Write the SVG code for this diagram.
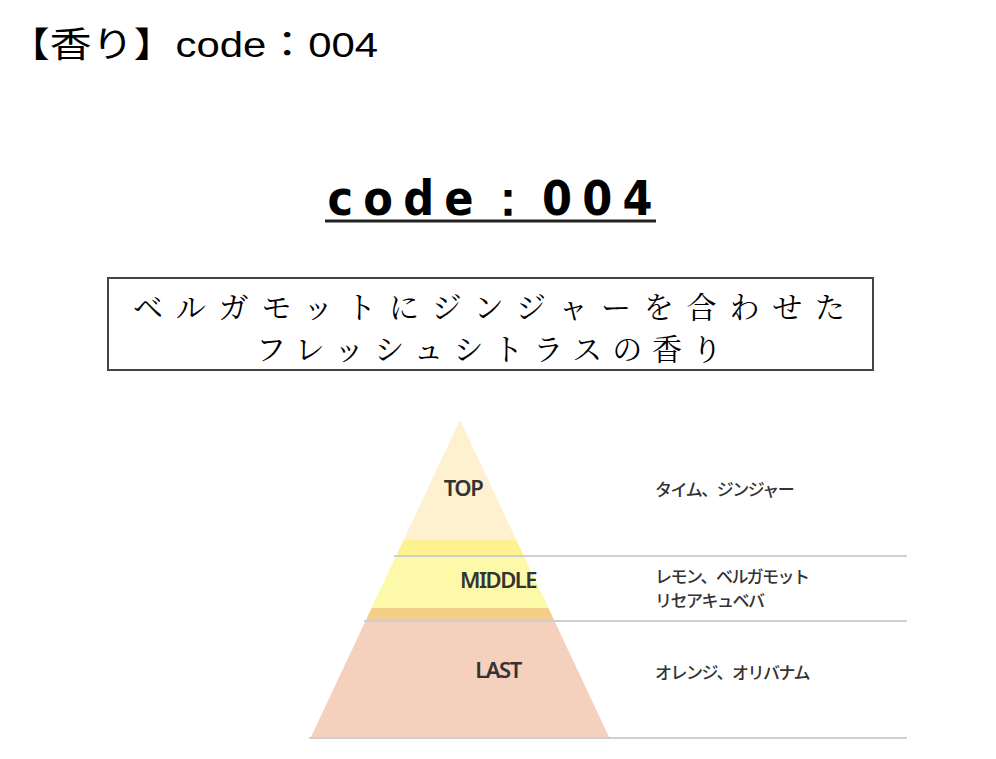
<svg xmlns="http://www.w3.org/2000/svg" width="996" height="759" viewBox="0 0 996 759">
<style>
.s{font-family:"Liberation Sans","Noto Sans CJK JP",sans-serif;fill:#000}
.j{font-family:"Liberation Serif","Noto Serif CJK JP","Noto Sans CJK JP",serif;font-size:30px;text-anchor:middle}
.lab{font-family:"Noto Sans","Noto Sans CJK JP",sans-serif;font-size:22px;font-weight:600;fill:#333;text-anchor:middle;letter-spacing:-1.5px}
.note{font-family:"Noto Sans CJK JP",sans-serif;font-size:17px;font-weight:500;fill:#333;letter-spacing:-1.5px}
.ln{stroke:#cfcfcf;stroke-width:2}
</style>
<rect width="996" height="759" fill="#fff"/>
<text id="heading" class="s" x="8" y="57" font-size="35" textLength="370" lengthAdjust="spacingAndGlyphs">【香り】code：004</text>
<g id="title">
<text x="490" y="215" font-size="48" font-weight="bold" text-anchor="middle" style='font-family:"DejaVu Sans Condensed","Noto Sans",sans-serif' textLength="325" lengthAdjust="spacing">code：004</text>
<line x1="325" y1="221" x2="656" y2="221" stroke="#222" stroke-width="3"/>
</g>
<g id="desc">
<rect x="108" y="278" width="765" height="92" fill="#fff" stroke="#444" stroke-width="2"/>
<text class="j" x="489" y="318" textLength="712" lengthAdjust="spacing">ベルガモットにジンジャーを合わせた</text>
<text class="j" x="489" y="360" textLength="466" lengthAdjust="spacing">フレッシュシトラスの香り</text>
</g>
<g id="pyramid">
<polygon points="460,420 516.4,540 403.6,540" fill="#fdf1d0"/>
<polygon points="403.6,540 516.4,540 524.4,557 395.6,557" fill="#fdf28f"/>
<polygon points="395.6,557 524.4,557 548.4,608 371.6,608" fill="#fcf9a8"/>
<polygon points="371.6,608 548.4,608 554.5,621 365.5,621" fill="#f5cf87"/>
<polygon points="365.5,621 554.5,621 609,737 311,737" fill="#f5d0bc"/>
</g>
<g id="connectors">
<line class="ln" x1="394" y1="556" x2="907" y2="556"/>
<line class="ln" x1="364" y1="621" x2="907" y2="621"/>
<line class="ln" x1="309" y1="738" x2="907" y2="738"/>
</g>
<g id="top"><text class="lab" x="463" y="496">TOP</text><text class="note" x="655" y="496">タイム、ジンジャー</text></g>
<g id="middle"><text class="lab" x="498" y="588">MIDDLE</text><text class="note" x="655" y="583">レモン、ベルガモット</text><text class="note" x="655" y="607">リセアキュベバ</text></g>
<g id="last"><text class="lab" x="498" y="678">LAST</text><text class="note" x="655" y="679">オレンジ、オリバナム</text></g>
</svg>
